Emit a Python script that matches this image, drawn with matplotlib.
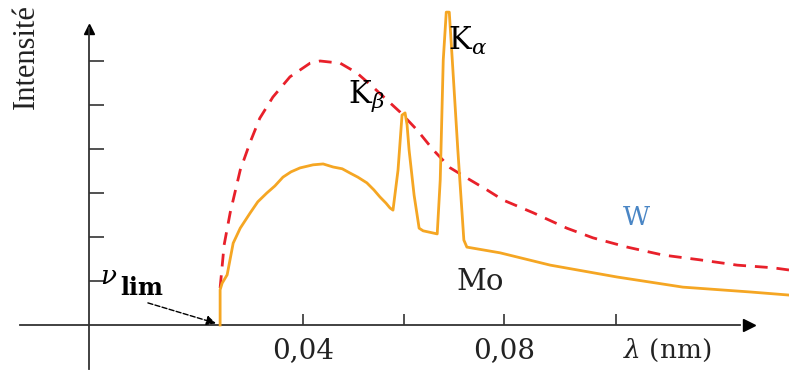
# X-ray emission spectra sketch: Mo (solid) and W (dashed) intensity vs wavelength.

# Import matplotlib for plotting.
import matplotlib.pyplot as plt

# Serif maths so the Greek letters match the serif labels.
plt.rcParams["mathtext.fontset"] = "dejavuserif"

# Mo spectrum (wavelength in nm, intensity in tick units).
mo_wavelength = [0.0235, 0.0235, 0.0239, 0.0249, 0.0261, 0.0275, 0.0295, 0.0310, 0.0328,
                 0.0344, 0.0360, 0.0376, 0.0394, 0.0420, 0.0440, 0.0460, 0.0478, 0.0494,
                 0.0509, 0.0527, 0.0541, 0.0553, 0.0565, 0.0573, 0.0579, 0.0589, 0.0597,
                 0.0603, 0.0607, 0.0611, 0.0621, 0.0631, 0.0639, 0.0667, 0.0673, 0.0679,
                 0.0685, 0.0691, 0.0697, 0.0708, 0.0720, 0.0726, 0.0792, 0.0892, 0.1025,
                 0.1156, 0.1290, 0.1367]
mo_intensity = [0.00, 0.80, 0.95, 1.14, 1.86, 2.20, 2.55, 2.80, 3.00,
                3.16, 3.36, 3.48, 3.57, 3.64, 3.66, 3.59, 3.55, 3.45,
                3.36, 3.23, 3.07, 2.91, 2.77, 2.66, 2.61, 3.52, 4.77,
                4.82, 4.55, 3.98, 2.95, 2.20, 2.14, 2.07, 3.30, 6.02,
                7.11, 7.11, 6.02, 3.98, 1.93, 1.77, 1.64, 1.36, 1.09,
                0.86, 0.75, 0.68]

# W spectrum.
w_wavelength = [0.0235, 0.0243, 0.0255, 0.0275, 0.0295, 0.0314, 0.0340, 0.0374, 0.0414,
                0.0434, 0.0474, 0.0507, 0.0539, 0.0573, 0.0593, 0.0627, 0.0659, 0.0693,
                0.0732, 0.0766, 0.0798, 0.0858, 0.0925, 0.0977, 0.1045, 0.1116, 0.1190,
                0.1264, 0.1335, 0.1367]
w_intensity = [0.84, 1.82, 2.55, 3.52, 4.16, 4.70, 5.18, 5.64, 5.95,
               6.00, 5.95, 5.73, 5.41, 5.05, 4.84, 4.43, 3.98, 3.57,
               3.30, 3.07, 2.84, 2.55, 2.20, 1.98, 1.77, 1.59, 1.48,
               1.36, 1.30, 1.25]

# Tick positions and labels on both axes.
x_ticks = [0.04, 0.06, 0.08, 0.1023]
x_tick_labels = ["0,04", "", "0,08", ""]
y_ticks = [1, 2, 3, 4, 5, 6]

# Cut-off wavelength marked on the axis.
cutoff_wavelength = 0.0235

# Colours.
mo_color = "#f5a623"
w_color = "#e8202a"
axis_color = "#333333"

# Create the figure at 789x374 pixels.
fig = plt.figure(figsize=(7.89, 3.74), dpi=100)

# One axes filling the whole canvas.
ax = fig.add_axes([0, 0, 1, 1])

# Set the visible data range.
ax.set_xlim(-0.0203, 0.1367)
ax.set_ylim(-1.114, 7.386)

# Draw the W curve as a red dashed line.
ax.plot(w_wavelength, w_intensity, color=w_color, linewidth=2.0, dashes=(4.6, 3.2), zorder=2)

# Draw the Mo curve as an orange solid line.
ax.plot(mo_wavelength, mo_intensity, color=mo_color, linewidth=2.0, zorder=3)

# Put the axis lines through the origin of the sketch.
ax.spines["left"].set_position(("data", -0.0026))
ax.spines["bottom"].set_position(("data", 0))
ax.spines["top"].set_visible(False)
ax.spines["right"].set_visible(False)
ax.spines["left"].set_bounds(-1.0, 6.75)
ax.spines["bottom"].set_bounds(-0.0163, 0.127)
ax.spines["left"].set_color(axis_color)
ax.spines["bottom"].set_color(axis_color)
ax.spines["left"].set_linewidth(1.3)
ax.spines["bottom"].set_linewidth(1.3)

# Arrow heads at the ends of the axes.
ax.plot([0.1287], [0], marker=">", markersize=9, color="black", clip_on=False)
ax.plot([-0.0026], [6.72], marker="^", markersize=7, color="black", clip_on=False)

# Ticks point inward, only two x labels shown.
ax.set_xticks(x_ticks)
ax.set_xticklabels(x_tick_labels, fontsize=20, family="DejaVu Serif", color="#222222")
ax.set_yticks(y_ticks)
ax.set_yticklabels([])
ax.tick_params(axis="x", direction="in", length=8, width=1.2, pad=9, colors=axis_color, labelcolor="#222222")
ax.tick_params(axis="y", direction="in", length=11, width=1.2, colors=axis_color)

# Axis titles.
ax.text(-0.0150, 6.09, "Intensité", rotation=90, ha="center", va="center", fontsize=22, family="Liberation Serif", color="#222222")
ax.text(0.1124, -0.57, r"$\lambda$ (nm)", ha="center", va="center", fontsize=19, family="DejaVu Serif", color="#222222")

# Line labels.
ax.text(0.0689, 6.25, r"K$_{\alpha}$", ha="left", va="baseline", fontsize=22, family="DejaVu Serif", color="black")
ax.text(0.0490, 5.05, r"K$_{\beta}$", ha="left", va="baseline", fontsize=22, family="DejaVu Serif", color="black")
ax.text(0.0752, 0.80, "Mo", ha="center", va="baseline", fontsize=21, family="DejaVu Serif", color="#222222")
ax.text(0.1063, 2.27, "W", ha="center", va="baseline", fontsize=19, family="DejaVu Serif", color="#4a86c5")

# Cut-off label with its dashed arrow.
ax.text(-0.0004, 0.93, r"$\nu$", ha="left", va="baseline", fontsize=19, color="black")
ax.text(0.0036, 0.68, "lim", ha="left", va="baseline", fontsize=17, family="DejaVu Serif", weight="bold", color="black")
ax.annotate("", xy=(cutoff_wavelength - 0.0003, 0.02), xytext=(0.0086, 0.52),
            arrowprops=dict(arrowstyle="-|>", linestyle="--", color="black", linewidth=1.0, mutation_scale=14))

# Save the figure.
plt.savefig("out.png", dpi=100)

# Close the figure to free memory.
plt.close()
